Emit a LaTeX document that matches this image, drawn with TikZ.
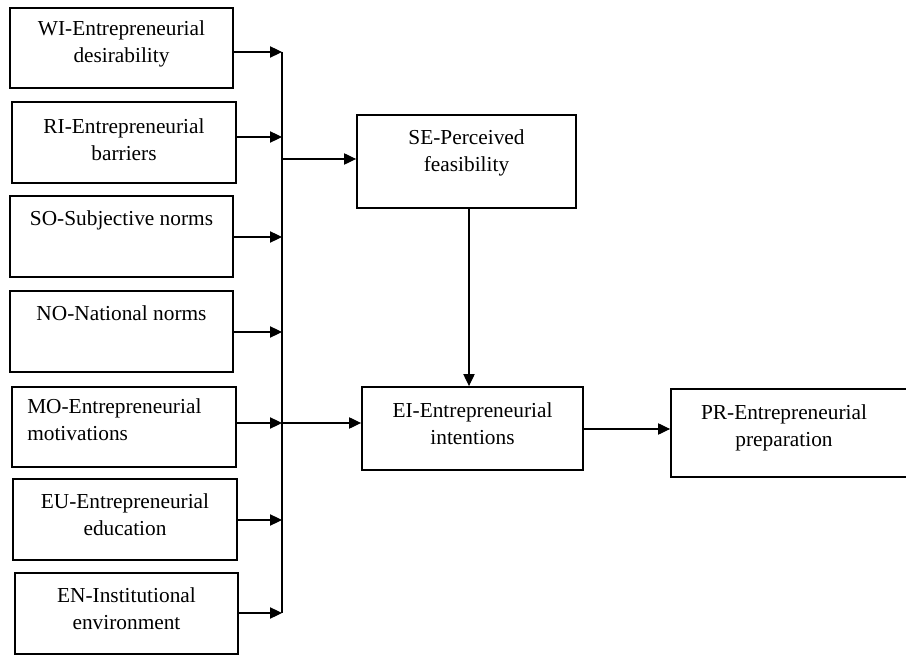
\documentclass[tikz,border=0pt]{standalone}
\usepackage{fontspec}
\setmainfont{Liberation Serif}
\usetikzlibrary{arrows.meta,fit}
\begin{document}
\begin{tikzpicture}[x=0.75pt,y=-0.75pt,
  box/.style={draw,line width=1.4pt,inner sep=0pt,rectangle},
  txt/.style={inner sep=0pt,align=center,font=\fontsize{16pt}{20.25pt}\selectfont},
  ln/.style={line width=0.8pt},
  arr/.style={line width=0.8pt,-{Triangle[length=9pt,width=8.5pt]}}]
\useasboundingbox (0,0) rectangle (906,655);
\clip (0,0) rectangle (906,655);
% left boxes
\node[box,fit={(10,8) (233,88)}] (wi) {};
\node[box,fit={(12,102) (236,183)}] (ri) {};
\node[box,fit={(10,196) (233,277)}] (so) {};
\node[box,fit={(10,291) (233,372)}] (no) {};
\node[box,fit={(12,387) (236,467)}] (mo) {};
\node[box,fit={(13,479) (237,560)}] (eu) {};
\node[box,fit={(15,573) (238,654)}] (en) {};
% right boxes
\node[box,fit={(357,115) (576,208)}] (se) {};
\node[box,fit={(362,387) (583,470)}] (ei) {};
\node[box,fit={(671,389) (915,477)}] (pr) {};
% texts
\node[txt,anchor=north] (wit) at ([yshift=-10pt]wi.north) {WI-Entrepreneurial\\desirability};
\node[txt,anchor=north] (rit) at ([yshift=-13pt]ri.north) {RI-Entrepreneurial\\barriers};
\node[txt,anchor=north] (sot) at ([yshift=-11.25pt]so.north) {SO-Subjective norms};
\node[txt,anchor=north] (not) at ([yshift=-11.25pt]no.north) {NO-National norms};
\node[txt,anchor=north west,align=left] (mot) at (27,398) {MO-Entrepreneurial\\motivations};
\node[txt,anchor=north] (eut) at ([yshift=-11.25pt]eu.north) {EU-Entrepreneurial\\education};
\node[txt,anchor=north] (ent) at ([yshift=-11.25pt]en.north) {EN-Institutional\\environment};
\node[txt,anchor=north] (set) at ([yshift=-11.25pt]se.north) {SE-Perceived\\feasibility};
\node[txt,anchor=north] (eit) at ([yshift=-12pt]ei.north) {EI-Entrepreneurial\\intentions};
\node[txt,anchor=north] (prt) at ([yshift=-12pt]pr.north -| 784,0) {PR-Entrepreneurial\\preparation};
% bus coordinates
\coordinate (b1) at (282,52);
\coordinate (b2) at (282,137);
\coordinate (b3) at (282,237);
\coordinate (b4) at (282,332);
\coordinate (b5) at (282,423);
\coordinate (b6) at (282,520);
\coordinate (b7) at (282,613);
\coordinate (bse) at (282,159);
\draw[ln] (b1) -- (b7);
\draw[arr] (wi.east |- b1) -- (b1);
\draw[arr] (ri.east |- b2) -- (b2);
\draw[arr] (so.east |- b3) -- (b3);
\draw[arr] (no.east |- b4) -- (b4);
\draw[arr] (mo.east |- b5) -- (b5);
\draw[arr] (eu.east |- b6) -- (b6);
\draw[arr] (en.east |- b7) -- (b7);
\draw[arr] (bse) -- (bse -| se.west);
\draw[arr] (b5) -- (b5 -| ei.west);
\coordinate (sev) at (469,208);
\draw[arr] (sev) -- (sev |- ei.north);
\coordinate (eip) at (583,429);
\draw[arr] (eip) -- (eip -| pr.west);
\end{tikzpicture}
\end{document}
